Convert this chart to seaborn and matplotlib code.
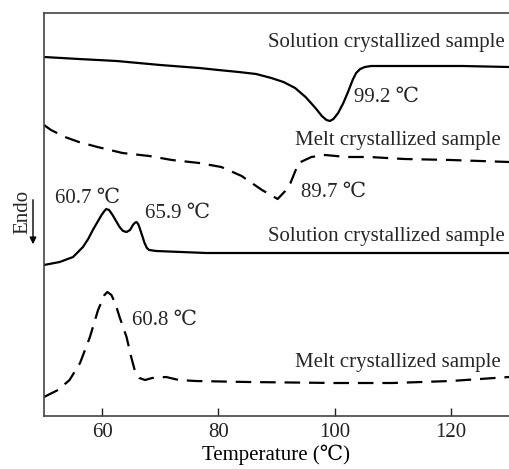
import numpy as np
import pandas as pd
import matplotlib
matplotlib.use("Agg")
import matplotlib.pyplot as plt
import seaborn as sns

# DSC curves (x = temperature, y = arbitrary heat-flow units)
sol_top_t = [50, 56, 62.5, 70, 76.7, 80, 83.5, 86.5, 89.1, 91.2, 93.2, 95, 96.7, 97.8, 98.6, 99.2, 99.8, 100.6,
             101.5, 102.3, 103.1, 103.7, 104.4, 105.2, 106.3, 107.4, 115, 122, 130]
sol_top_y = [359, 357, 355, 351, 348, 346, 344, 342, 338, 334, 328, 319, 308, 300, 296, 295, 297, 303,
             313, 324, 336, 343, 347, 349, 350, 350, 350, 350, 349]

melt_top_t = [50, 51.2, 53.6, 56, 59.2, 63.5, 68.1, 72, 76.7, 80.5, 84, 87.5, 90.2, 91.5, 92.4, 93.8, 96, 98.4, 102,
              106, 112, 120, 130]
melt_top_y = [291, 286, 279, 274, 269, 263, 260, 256, 253, 249, 240, 226, 217, 225, 233, 253, 259, 261, 259,
              259, 257, 256, 254]

sol_bot_t = [50, 52.7, 55, 56.7, 57.6, 58.4, 59.2, 59.9, 60.4, 60.7, 61.2, 61.8, 62.4, 63, 63.6, 64.2, 64.8, 65.3,
             65.6, 65.9, 66.2, 66.4, 66.8, 67.3, 67.7, 68.1, 69.3, 77.9, 90, 110, 130]
sol_bot_y = [151, 154, 159, 169, 177, 186, 194, 201, 205, 207, 206, 201, 195, 189, 185, 184, 186, 191,
             193, 194, 192, 189, 182, 173, 168, 166, 165, 163, 163, 163, 163]

melt_bot_t = [50, 52.4, 54.4, 56.2, 57.9, 59.3, 60.4, 60.9, 61.6, 62.3, 63, 64.2, 65, 65.6, 66.4, 67.4, 68.6, 71,
              73.2, 76.1, 85, 100, 110, 120, 130]
melt_bot_y = [19, 26, 36, 53, 79, 106, 121, 124, 121, 112, 99, 79, 59, 46, 38, 36, 38, 39,
              36, 35, 34, 33, 33, 35, 39]

labels = ["Solution crystallized sample", "Melt crystallized sample",
          "Solution crystallized sample", "Melt crystallized sample"]

sns.set_theme(style="white")
plt.rcParams["font.family"] = ["Liberation Serif", "DejaVu Serif"]

fig = plt.figure(figsize=(5.09, 4.69), dpi=100)
ax = fig.add_axes([44 / 509, 53 / 469, 1 - 44 / 509, 403 / 469])

curves = [(sol_top_t, sol_top_y, "-"), (melt_top_t, melt_top_y, "--"),
          (sol_bot_t, sol_bot_y, "-"), (melt_bot_t, melt_bot_y, "--")]
for t, y, ls in curves:
    line = sns.lineplot(x=t, y=y, ax=ax, color="black", linewidth=1.6,
                        sort=False, estimator=None)
    if ls == "--":
        line.lines[-1].set_dashes((7, 4))

ax.set_xlim(50, 130)
ax.set_ylim(0, 403)
ax.set_xticks([60, 80, 100, 120])
ax.set_yticks([])
fs = 15
ax.tick_params(axis="x", direction="in", length=6, width=1, colors="#222222",
               labelsize=fs, pad=5, bottom=True)
for side in ["left", "bottom", "top"]:
    ax.spines[side].set_color("#444444")
    ax.spines[side].set_linewidth(1.2)
ax.spines["right"].set_visible(False)

ax.set_xlabel("Temperature (℃)", fontsize=fs, labelpad=2, color="black")

ax.text(129.2, 374, labels[0], ha="right", va="center", fontsize=fs)
ax.text(103.3, 319, "99.2 ℃", ha="left", va="center", fontsize=fs)
ax.text(128.5, 276, labels[1], ha="right", va="center", fontsize=fs)
ax.text(94.3, 224, "89.7 ℃", ha="left", va="center", fontsize=fs)
ax.text(51.9, 218, "60.7 ℃", ha="left", va="center", fontsize=fs)
ax.text(67.3, 203, "65.9 ℃", ha="left", va="center", fontsize=fs)
ax.text(129.2, 180, labels[2], ha="right", va="center", fontsize=fs)
ax.text(65.2, 96, "60.8 ℃", ha="left", va="center", fontsize=fs)
ax.text(128.5, 54, labels[3], ha="right", va="center", fontsize=fs)

fig.text(23 / 509, 1 - 212 / 469, "Endo", rotation=90, ha="center", va="center", fontsize=fs)
ax.annotate("", xy=(33 / 509, 1 - 247 / 469), xytext=(33 / 509, 1 - 197 / 469),
            xycoords="figure fraction", textcoords="figure fraction",
            arrowprops=dict(arrowstyle="-|>", color="black", lw=1.0, mutation_scale=10))

fig.savefig("out.png", dpi=100)
